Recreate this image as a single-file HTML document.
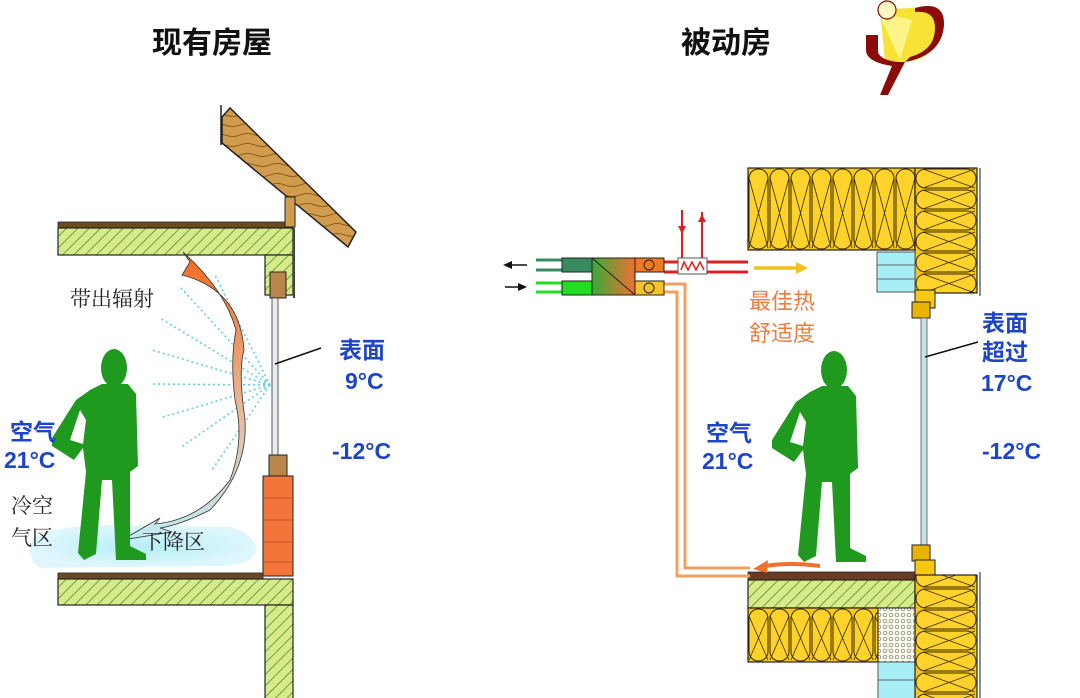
<!DOCTYPE html>
<html><head><meta charset="utf-8"><style>
html,body{margin:0;padding:0;background:#fff;width:1080px;height:698px;overflow:hidden}
svg{display:block}
text{font-family:"Liberation Sans","Noto Sans CJK SC",sans-serif}
.cj{font-family:"Noto Sans CJK SC","WenQuanYi Zen Hei",sans-serif}
.sf{font-family:"Noto Serif CJK SC","Noto Sans CJK SC",serif}
</style></head><body>
<svg width="1080" height="698" viewBox="0 0 1080 698" xmlns="http://www.w3.org/2000/svg">
<defs>
<pattern id="hatch" width="8" height="8" patternUnits="userSpaceOnUse" patternTransform="rotate(45)">
<rect width="8" height="8" fill="#d6ec8c"/><line x1="0" y1="0" x2="0" y2="8" stroke="#5f8a22" stroke-width="1.6"/></pattern>
<pattern id="insH" width="21" height="82" patternUnits="userSpaceOnUse" x="748" y="168">
<rect width="21" height="82" fill="#f7c812"/>
<rect x="1" y="1" width="19" height="80" rx="9.5" fill="#fdd22a" stroke="#3a2a00" stroke-width="1"/>
<path d="M1,10 L20,80 M20,10 L1,80" stroke="#3a2a00" stroke-width="0.8" fill="none"/></pattern>
<pattern id="insH2" width="21" height="54" patternUnits="userSpaceOnUse" x="748" y="608">
<rect width="21" height="54" fill="#f7c812"/>
<rect x="1" y="1" width="19" height="52" rx="9.5" fill="#fdd22a" stroke="#3a2a00" stroke-width="1"/>
<path d="M1,8 L20,52 M20,8 L1,52" stroke="#3a2a00" stroke-width="0.8" fill="none"/></pattern>
<pattern id="insV" width="62" height="21" patternUnits="userSpaceOnUse" x="915" y="168">
<rect width="62" height="21" fill="#f7c812"/>
<rect x="1" y="1" width="60" height="19" ry="9.5" rx="9.5" fill="#fdd22a" stroke="#3a2a00" stroke-width="1"/>
<path d="M8,1 L60,20 M8,20 L60,1" stroke="#3a2a00" stroke-width="0.8" fill="none"/></pattern>
<pattern id="dots" width="6" height="6" patternUnits="userSpaceOnUse">
<rect width="6" height="6" fill="#fafae8"/><circle cx="3" cy="3" r="1.8" fill="none" stroke="#777" stroke-width="0.7"/></pattern>
<pattern id="wood" width="30" height="10" patternUnits="userSpaceOnUse">
<rect width="30" height="10" fill="#d29c4e"/><path d="M0,5 Q7,2 15,5 T30,5" stroke="#7a4a10" stroke-width="0.8" fill="none"/></pattern>
<linearGradient id="hrv" x1="0" x2="1"><stop offset="0" stop-color="#3aaa3a"/><stop offset="1" stop-color="#f07030"/></linearGradient>
<linearGradient id="flow" x1="0" y1="0" x2="0" y2="1"><stop offset="0" stop-color="#f36a1e"/><stop offset="0.55" stop-color="#e9b89a"/><stop offset="1" stop-color="#bfeef5"/></linearGradient>
<radialGradient id="pool" cx="0.5" cy="0.5" r="0.5"><stop offset="0" stop-color="#b6eef8"/><stop offset="1" stop-color="#dff7fc"/></radialGradient>
<g id="person">
<ellipse cx="64" cy="20" rx="13" ry="19"/>
<path d="M52,36 L78,36 L86,46 L88,118 L80,124 L80,198 L96,206 L96,212 L66,212 L62,132 L52,132 L46,206 L34,212 L28,205 L36,124 L33,100 L24,112 L2,98 L2,90 L26,52 L40,42 Z M30,62 L20,92 L33,96 L36,72 Z" fill-rule="evenodd"/>
</g>
</defs>

<text x="212" y="53" font-size="30" font-weight="bold" text-anchor="middle" class="cj" fill="#111">现有房屋</text>
<text x="726" y="53" font-size="30" font-weight="bold" text-anchor="middle" class="cj" fill="#111">被动房</text>

<path d="M880,10 L908,8 Q935,5 938,28 Q936,60 905,62 L885,62 Z" fill="#f5e020" opacity="0.9"/>
<path d="M878,12 L900,60 L912,20 Z" fill="#fff7a0" opacity="0.8"/>
<path d="M915,8 Q945,0 944,25 Q942,55 905,62 L910,57 Q935,50 935,28 Q935,10 915,12 Z" fill="#8b0a0a"/>
<path d="M866,35 L878,35 L878,52 Q880,60 898,62 L905,62 L888,95 L880,95 L892,66 Q866,62 866,50 Z" fill="#8b0a0a"/>
<circle cx="887" cy="10" r="9" fill="#fff8c0" stroke="#8b0a0a" stroke-width="1.2"/>

<!-- LEFT -->
<polygon points="222,117 230,108 356,232 348,247 222,143" fill="url(#wood)" stroke="#222" stroke-width="1.5"/>
<line x1="221" y1="105" x2="221" y2="145" stroke="#222" stroke-width="1.5"/>
<rect x="58" y="222" width="228" height="6" fill="#6b4a22" stroke="#222" stroke-width="0.8"/>
<rect x="58" y="228" width="235" height="27" fill="url(#hatch)" stroke="#222" stroke-width="1.2"/>
<rect x="285" y="197" width="10" height="30" fill="#d29c4e" stroke="#222"/>
<rect x="265" y="255" width="28" height="40" fill="url(#hatch)" stroke="#222" stroke-width="1.2"/>
<rect x="293" y="228" width="2" height="70" fill="#444"/>
<rect x="270" y="272" width="16" height="26" fill="#b8864a" stroke="#222"/>
<rect x="272" y="298" width="6" height="158" fill="#e8eef0" stroke="#333" stroke-width="0.8"/>
<rect x="269" y="455" width="18" height="22" fill="#b8864a" stroke="#222"/>
<rect x="263" y="476" width="30" height="100" fill="#f4753a" stroke="#222"/>
<line x1="263" y1="498" x2="293" y2="498" stroke="#c9552a"/><line x1="263" y1="520" x2="293" y2="520" stroke="#c9552a"/><line x1="263" y1="542" x2="293" y2="542" stroke="#c9552a"/><line x1="263" y1="562" x2="293" y2="562" stroke="#c9552a"/>
<rect x="58" y="573" width="205" height="6" fill="#6b4a22" stroke="#222" stroke-width="0.8"/>
<rect x="58" y="579" width="235" height="26" fill="url(#hatch)" stroke="#222" stroke-width="1.2"/>
<rect x="265" y="605" width="28" height="95" fill="url(#hatch)" stroke="#222" stroke-width="1.2"/>
<path d="M32,540 Q40,527 110,525 L230,527 Q258,535 256,552 Q250,568 200,566 L40,568 Q26,560 32,540 Z" fill="url(#pool)"/>
<g stroke="#5fd0e0" stroke-width="1.6" stroke-dasharray="2,3">
<line x1="270" y1="385" x2="215" y2="275"/><line x1="270" y1="385" x2="180" y2="287"/><line x1="270" y1="385" x2="160" y2="318"/><line x1="270" y1="385" x2="152" y2="350"/><line x1="270" y1="385" x2="152" y2="384"/><line x1="270" y1="385" x2="160" y2="418"/><line x1="270" y1="385" x2="180" y2="448"/><line x1="270" y1="385" x2="212" y2="470"/>
</g>
<path d="M183,252 L190,262 L182,275 Q240,290 244,350 Q238,370 245,420 Q248,470 210,510 Q180,525 160,528 L172,532 L122,540 L160,518 L155,524 Q200,520 230,480 Q245,440 235,400 Q230,360 236,330 Q225,290 183,252 Z" fill="url(#flow)" stroke="#333" stroke-width="0.8"/>
<use href="#person" x="50" y="348" fill="#1f9a1f"/>
<line x1="275" y1="364" x2="321" y2="348" stroke="#111" stroke-width="1.5"/>
<text x="70" y="306" font-size="21" class="sf" fill="#222">带出辐射</text>
<text x="339" y="358" font-size="23" font-weight="bold" class="cj" fill="#1e44c8">表面</text>
<text x="345" y="389" font-size="23" font-weight="bold" fill="#1e44c8">9°C</text>
<text x="10" y="440" font-size="23" font-weight="bold" class="cj" fill="#1e44c8">空气</text>
<text x="4" y="468" font-size="23" font-weight="bold" fill="#1e44c8">21°C</text>
<text x="332" y="459" font-size="23" font-weight="bold" fill="#1e44c8">-12°C</text>
<text x="11" y="513" font-size="21" class="sf" fill="#222">冷空</text>
<text x="11" y="545" font-size="21" class="sf" fill="#222">气区</text>
<text x="142" y="549" font-size="21" class="sf" fill="#222">下降区</text>

<!-- RIGHT -->
<rect x="748" y="168" width="167" height="82" fill="url(#insH)" stroke="#222" stroke-width="1.2"/>
<rect x="915" y="168" width="62" height="125" fill="url(#insV)" stroke="#222" stroke-width="1.2"/>
<line x1="980" y1="168" x2="980" y2="296" stroke="#666" stroke-width="1.5"/>
<rect x="877" y="252" width="38" height="40" fill="#a8eef6" stroke="#555"/>
<line x1="877" y1="265" x2="915" y2="265" stroke="#666"/><line x1="877" y1="279" x2="915" y2="279" stroke="#666"/>
<rect x="915" y="290" width="20" height="18" fill="#f7c812" stroke="#222"/>
<rect x="912" y="302" width="18" height="16" fill="#e8b400" stroke="#222"/>
<rect x="921" y="318" width="6" height="228" fill="#c8e0e8" stroke="#555" stroke-width="0.8"/>
<rect x="912" y="545" width="18" height="16" fill="#e8b400" stroke="#222"/>
<rect x="915" y="560" width="20" height="15" fill="#f7c812" stroke="#222"/>
<rect x="748" y="572" width="167" height="8" fill="#6b3a22" stroke="#222" stroke-width="0.8"/>
<rect x="748" y="580" width="167" height="28" fill="url(#hatch)" stroke="#222" stroke-width="1.2"/>
<rect x="748" y="608" width="130" height="54" fill="url(#insH2)" stroke="#222" stroke-width="1.2"/>
<rect x="878" y="608" width="37" height="54" fill="url(#dots)" stroke="#222"/>
<rect x="878" y="662" width="37" height="40" fill="#a8eef6" stroke="#555"/>
<line x1="878" y1="680" x2="915" y2="680" stroke="#666"/>
<rect x="915" y="575" width="62" height="125" fill="url(#insV)" stroke="#222" stroke-width="1.2"/>
<line x1="980" y1="572" x2="980" y2="698" stroke="#666" stroke-width="1.5"/>

<g stroke-width="3">
<line x1="536" y1="260" x2="562" y2="260" stroke="#3a8a60"/><line x1="536" y1="270" x2="562" y2="270" stroke="#3a8a60"/>
<line x1="536" y1="283" x2="562" y2="283" stroke="#22dd22"/><line x1="536" y1="292" x2="562" y2="292" stroke="#22dd22"/>
<line x1="664" y1="262" x2="748" y2="262" stroke="#e02020"/><line x1="664" y1="272" x2="748" y2="272" stroke="#e02020"/>
<line x1="682" y1="210" x2="682" y2="258" stroke="#e02020" stroke-width="2"/><line x1="702" y1="212" x2="702" y2="258" stroke="#e02020" stroke-width="2"/>
<path d="M664,284 L685,284 L685,568 L750,568" fill="none" stroke="#f0a060"/>
<path d="M664,292 L677,292 L677,576 L750,576" fill="none" stroke="#f0a060"/>
</g>
<path d="M678,226 L686,226 L682,234 Z" fill="#e02020"/><path d="M698,222 L706,222 L702,214 Z" fill="#e02020"/>
<rect x="562" y="258" width="30" height="14" fill="#3a8a60" stroke="#222"/>
<rect x="562" y="281" width="30" height="14" fill="#22dd22" stroke="#222"/>
<rect x="592" y="258" width="43" height="37" fill="url(#hrv)" stroke="#222"/>
<line x1="592" y1="258" x2="635" y2="295" stroke="#222"/>
<rect x="635" y="258" width="29" height="14" fill="#f07a22" stroke="#222"/>
<rect x="635" y="281" width="29" height="14" fill="#f4c22a" stroke="#222"/>
<circle cx="649" cy="265" r="5" fill="none" stroke="#222"/><circle cx="649" cy="288" r="5" fill="none" stroke="#222"/>
<rect x="678" y="258" width="29" height="16" fill="#fff" stroke="#555"/>
<path d="M681,270 L684,262 L688,270 L692,262 L696,270 L700,262 L704,270" fill="none" stroke="#e02020" stroke-width="1.5"/>
<line x1="510" y1="265" x2="527" y2="265" stroke="#111" stroke-width="1.5"/><path d="M503,265 L512,261 L512,269 Z" fill="#111"/>
<line x1="505" y1="287" x2="520" y2="287" stroke="#111" stroke-width="1.5"/><path d="M527,287 L518,283 L518,291 Z" fill="#111"/>
<line x1="754" y1="268" x2="798" y2="268" stroke="#f4c020" stroke-width="3.5"/><path d="M808,268 L796,262 L796,274 Z" fill="#f4c020"/>
<path d="M820,566 Q790,562 765,566" fill="none" stroke="#f07030" stroke-width="4"/><path d="M753,569 L768,560 L767,573 Z" fill="#f07030"/>
<use href="#person" x="770" y="350" fill="#1f9a1f"/>
<line x1="925" y1="357" x2="978" y2="342" stroke="#111" stroke-width="1.5"/>
<text x="749" y="309" font-size="22" class="cj" fill="#ef7b40">最佳热</text>
<text x="749" y="341" font-size="22" class="cj" fill="#ef7b40">舒适度</text>
<text x="706" y="441" font-size="23" font-weight="bold" class="cj" fill="#1e44c8">空气</text>
<text x="702" y="469" font-size="23" font-weight="bold" fill="#1e44c8">21°C</text>
<text x="982" y="331" font-size="23" font-weight="bold" class="cj" fill="#1e44c8">表面</text>
<text x="982" y="360" font-size="23" font-weight="bold" class="cj" fill="#1e44c8">超过</text>
<text x="981" y="391" font-size="23" font-weight="bold" fill="#1e44c8">17°C</text>
<text x="982" y="459" font-size="23" font-weight="bold" fill="#1e44c8">-12°C</text>
</svg>
</body></html>
